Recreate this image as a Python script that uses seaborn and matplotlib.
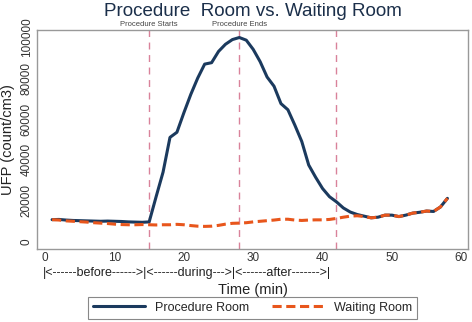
import matplotlib
matplotlib.use("Agg")
import matplotlib.pyplot as plt
import matplotlib.transforms as mtransforms
import pandas as pd
import seaborn as sns

minutes = list(range(1, 59))
procedure_room = [
    10800, 10900, 10600, 10400, 10300, 10200, 10100, 10000, 10100, 10000,
    9900, 9700, 9600, 9500, 9700, 22000, 34000, 51000, 53500, 63000,
    72000, 80000, 86800, 87500, 93000, 96500, 98800, 99800, 98500, 94000,
    88000, 80500, 76000, 67500, 64500, 57000, 49000, 37500, 31500, 26000,
    22000, 19500, 16500, 14500, 13300, 12500, 11700, 12000, 13000, 13000,
    12300, 13000, 14000, 14400, 15000, 14800, 17000, 21200,
]
waiting_room = [
    10800, 10600, 10200, 10000, 9800, 9600, 9300, 9100, 8900, 8600,
    8400, 8300, 8300, 8400, 8300, 8200, 8300, 8300, 8500, 8300,
    7900, 7600, 7500, 7600, 8000, 8600, 9000, 9100, 9300, 9700,
    10000, 10300, 10600, 11000, 11000, 10600, 10400, 10600, 10700, 10700,
    10900, 11400, 12000, 12500, 12700, 12300, 11700, 12000, 13000, 13000,
    12300, 13000, 14000, 14400, 15000, 14800, 17000, 21200,
]
event_times = [15, 28, 42]
event_labels = ["Procedure Starts", "Procedure Ends", ""]

df = pd.DataFrame({"t": minutes, "proc": procedure_room, "wait": waiting_room})

sns.set_style("white")
plt.rcParams["font.family"] = ["Liberation Sans", "DejaVu Sans"]

fig = plt.figure(figsize=(4.72, 3.22), dpi=100)
ax = fig.add_axes([0.078, 0.227, 0.914, 0.68])

navy = "#1b3a5e"
orange = "#e8561c"
pink = "#d9829a"

for t in event_times:
    ax.axvline(t, color=pink, lw=1.0, ls=(0, (5, 4)), zorder=1)

sns.lineplot(data=df, x="t", y="proc", color=navy, lw=2.2, ax=ax,
             label="Procedure Room", zorder=3)
sns.lineplot(data=df, x="t", y="wait", color=orange, lw=2.2, ax=ax,
             label="Waiting Room", zorder=4, linestyle=(0, (3, 1.5)))

ax.set_xlim(-1.2, 61)
ax.set_ylim(-3500, 103500)
ax.set_xticks([0, 10, 20, 30, 40, 50, 60])
ax.set_yticks([0, 20000, 40000, 60000, 80000, 100000])
ax.tick_params(axis="both", direction="in", length=3, width=0.8, color="#888888",
               labelsize=8.5, labelcolor="#333333", pad=2)
ax.tick_params(axis="y", pad=3)
for lab in ax.get_yticklabels():
    lab.set_rotation(90)
    lab.set_va("center")

for s in ax.spines.values():
    s.set_color("#999999")
    s.set_linewidth(1.0)

ax.set_ylabel("UFP (count/cm3)", fontsize=10.5, color="#222222", labelpad=4)
ax.set_xlabel("Time (min)", fontsize=10.5, color="#222222", labelpad=14)
ax.set_title("Procedure  Room vs. Waiting Room", fontsize=13.5, color="#1b2f4a", pad=10)

trans = mtransforms.blended_transform_factory(ax.transData, ax.transAxes)
for t, lab in zip(event_times, event_labels):
    if lab:
        ax.text(t, 1.01, lab, transform=trans, ha="center", va="bottom",
                fontsize=5.5, color="#444444")

ax.text(-0.3, -0.11, "|<------before------>|<------during--->|<------after------->|",
        transform=trans, ha="left", va="center", fontsize=9, color="#222222")

ax.legend(loc="upper center", bbox_to_anchor=(0.5, -0.218), ncol=2, frameon=True,
          fancybox=False, edgecolor="#888888", fontsize=9, handlelength=4.2,
          columnspacing=1.8, borderpad=0.4, borderaxespad=0, framealpha=1)
leg = ax.get_legend()
leg.get_frame().set_linewidth(0.8)

fig.savefig("out.png", dpi=100)
